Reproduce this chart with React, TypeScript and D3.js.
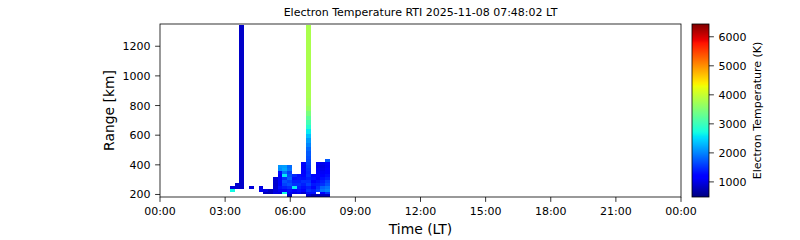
import React from "react";
import * as d3 from "d3";

// ---- data ----
const titleText = "Electron Temperature RTI 2025-11-08 07:48:02 LT";
const xTicksHours = [0, 3, 6, 9, 12, 15, 18, 21, 24];
const xTickLabels = ["00:00", "03:00", "06:00", "09:00", "12:00", "15:00", "18:00", "21:00", "00:00"];
const yTicks = [200, 400, 600, 800, 1000, 1200];
const cbTicks = [1000, 2000, 3000, 4000, 5000, 6000];

// time bin edges (decimal hours, LT)
const timeEdges = [3.22, 3.44, 3.66, 3.88, 4.1, 4.32, 4.54, 4.76, 4.98, 5.2, 5.42, 5.64, 5.86, 6.08, 6.29, 6.51, 6.73, 6.95, 7.17, 7.39, 7.61, 7.83];

// range gate edges (km)
const rangeEdges = [180, 200, 220, 240, 260, 280, 300, 320, 340, 360, 380, 400, 420, 440, 460, 490, 520, 550, 580, 610, 640, 670, 700, 730, 760, 800, 850, 900, 950, 1000, 1050, 1100, 1150, 1200, 1250, 1300, 1340];

const _ = null;
// Te (K) per time column, per range gate (index 0 = lowest gate)
const teProfiles: (number | null)[][] = [
  [_, _, 2700, 950],
  [_, _, _, 900, 880],
  [_, _, _, 860, 860, 860, 860, 860, 860, 860, 860, 860, 860, 860, 860, 860, 860, 860, 860, 860, 860, 860, 860, 860, 860, 860, 860, 860, 860, 860, 860, 860, 860, 860, 860, 860],
  [],
  [_, _, _, 950],
  [],
  [_, _, 1050, 1000],
  [_, 800, 1000],
  [_, 780, 820],
  [_, 1000, 950, 900, 880, 900, 920],
  [_, 950, 1100, 1300, 1200, 1150, 1250, 1200, 1300, 2050, 2100],
  [_, 2700, 1200, 1400, 1600, 1700, 1500, 2600, 1900, 2200, 2150],
  [800, 1100, 1300, 1500, 1700, 1600, 1800, 1700, 1600, 1900, 1850],
  [_, 1000, 1200, 2600, 1500, 1400, 1300, 1450],
  [_, 1100, 1300, 1400, 1500, 1400, 1350, 1300],
  [_, 900, 1200, 1300, 1400, 1500, 1300, 1250, 1200, 1150, 1100, 1200],
  [900, 1300, 1500, 1400, 1600, 1500, 1400, 1500, 1450, 1500, 1550, 1600, 1650, 1700, 1750, 1850, 2000, 2150, 2350, 2600, 2850, 3050, 3250, 3450, 3650, 3750, 3780, 3800, 3800, 3800, 3800, 3800, 3800, 3800, 3800, 3800],
  [750, 1300, 1400, 1250, 1350, 1200, 1300, 1250],
  [750, _, 1600, 1500, 1400, 1300, 1200, 1250, 1150, 1100, 1050, 1100],
  [800, 1200, 1900, 1800, 1500, 1400, 1300, 1200, 1100, 1050, 1000, 1050],
  [800, 1500, 2000, 1900, 1700, 1600, 1400, 1300, 1200, 1150, 1100, 1200, 1750],
];

const teMin = 480;
const teMax = 6440;

// ---- jet colormap (matplotlib segment data) ----
const jetR: [number, number][] = [[0, 0], [0.35, 0], [0.66, 1], [0.89, 1], [1, 0.5]];
const jetG: [number, number][] = [[0, 0], [0.125, 0], [0.375, 1], [0.64, 1], [0.91, 0], [1, 0]];
const jetB: [number, number][] = [[0, 0.5], [0.11, 1], [0.34, 1], [0.65, 0], [1, 0]];
function seg(s: [number, number][], t: number) {
  for (let i = 1; i < s.length; i++) {
    if (t <= s[i][0]) {
      const [x0, y0] = s[i - 1];
      const [x1, y1] = s[i];
      return y0 + ((t - x0) / (x1 - x0)) * (y1 - y0);
    }
  }
  return s[s.length - 1][1];
}
function jet(t: number) {
  const c = Math.max(0, Math.min(1, t));
  const r = Math.round(seg(jetR, c) * 255);
  const g = Math.round(seg(jetG, c) * 255);
  const b = Math.round(seg(jetB, c) * 255);
  return `rgb(${r},${g},${b})`;
}

const W = 800;
const H = 240;
const pl = 160, pr = 681, pt = 24, pb = 197;
const cbL = 692, cbR = 709;
const font = "'DejaVu Sans', sans-serif";

export default function App() {
  const x = d3.scaleLinear().domain([0, 24]).range([pl, pr]);
  const y = d3.scaleLinear().domain([183, 1350]).range([pb, pt]);
  const cNorm = d3.scaleLinear().domain([teMin, teMax]).range([0, 1]);
  const cbY = d3.scaleLinear().domain([teMin, teMax]).range([pb, pt]);

  const cells: JSX.Element[] = [];
  teProfiles.forEach((prof, k) => {
    const x0 = x(timeEdges[k]);
    const x1 = x(timeEdges[k + 1]);
    prof.forEach((v, g) => {
      if (v == null) return;
      const y0 = y(rangeEdges[g + 1]);
      const y1 = y(rangeEdges[g]);
      cells.push(
        <rect key={`${k}-${g}`} x={x0} y={y0} width={x1 - x0} height={y1 - y0} fill={jet(cNorm(v))} shapeRendering="crispEdges" />
      );
    });
  });

  const stops = d3.range(0, 101).map((i) => (
    <stop key={i} offset={`${i}%`} stopColor={jet(i / 100)} />
  ));

  return (
    <svg width={W} height={H} style={{ position: "absolute", left: 0, top: 0 }} fontFamily={font}>
      <defs>
        <clipPath id="plotclip">
          <rect x={pl} y={pt} width={pr - pl} height={pb - pt} />
        </clipPath>
        <linearGradient id="jetgrad" x1="0" y1="1" x2="0" y2="0">
          {stops}
        </linearGradient>
      </defs>
      <rect x={0} y={0} width={W} height={H} fill="white" />
      <text x={(pl + pr) / 2} y={15.5} fontSize={11} textAnchor="middle">{titleText}</text>
      <g clipPath="url(#plotclip)">{cells}</g>
      <rect x={pl} y={pt} width={pr - pl} height={pb - pt} fill="none" stroke="black" strokeWidth={0.8} />
      {xTicksHours.map((h, i) => (
        <g key={`xt${i}`}>
          <line x1={x(h)} x2={x(h)} y1={pb} y2={pb + 4.9} stroke="black" strokeWidth={0.8} />
          <text x={x(h)} y={pb + 17.5} fontSize={11} textAnchor="middle">{xTickLabels[i]}</text>
        </g>
      ))}
      {yTicks.map((v) => (
        <g key={`yt${v}`}>
          <line x1={pl - 4.9} x2={pl} y1={y(v)} y2={y(v)} stroke="black" strokeWidth={0.8} />
          <text x={pl - 9.5} y={y(v) + 4} fontSize={11} textAnchor="end">{v}</text>
        </g>
      ))}
      <text x={(pl + pr) / 2} y={234} fontSize={13.9} textAnchor="middle">Time (LT)</text>
      <text transform={`translate(114,${(pt + pb) / 2}) rotate(-90)`} fontSize={13.9} textAnchor="middle">Range [km]</text>
      <rect x={cbL} y={pt} width={cbR - cbL} height={pb - pt} fill="url(#jetgrad)" />
      <rect x={cbL} y={pt} width={cbR - cbL} height={pb - pt} fill="none" stroke="black" strokeWidth={0.8} />
      {cbTicks.map((v) => (
        <g key={`cb${v}`}>
          <line x1={cbR} x2={cbR + 4.9} y1={cbY(v)} y2={cbY(v)} stroke="black" strokeWidth={0.8} />
          <text x={cbR + 9.5} y={cbY(v) + 4} fontSize={11}>{v}</text>
        </g>
      ))}
      <text transform={`translate(761,${(pt + pb) / 2}) rotate(-90)`} fontSize={11} textAnchor="middle">Electron Temperature (K)</text>
    </svg>
  );
}
